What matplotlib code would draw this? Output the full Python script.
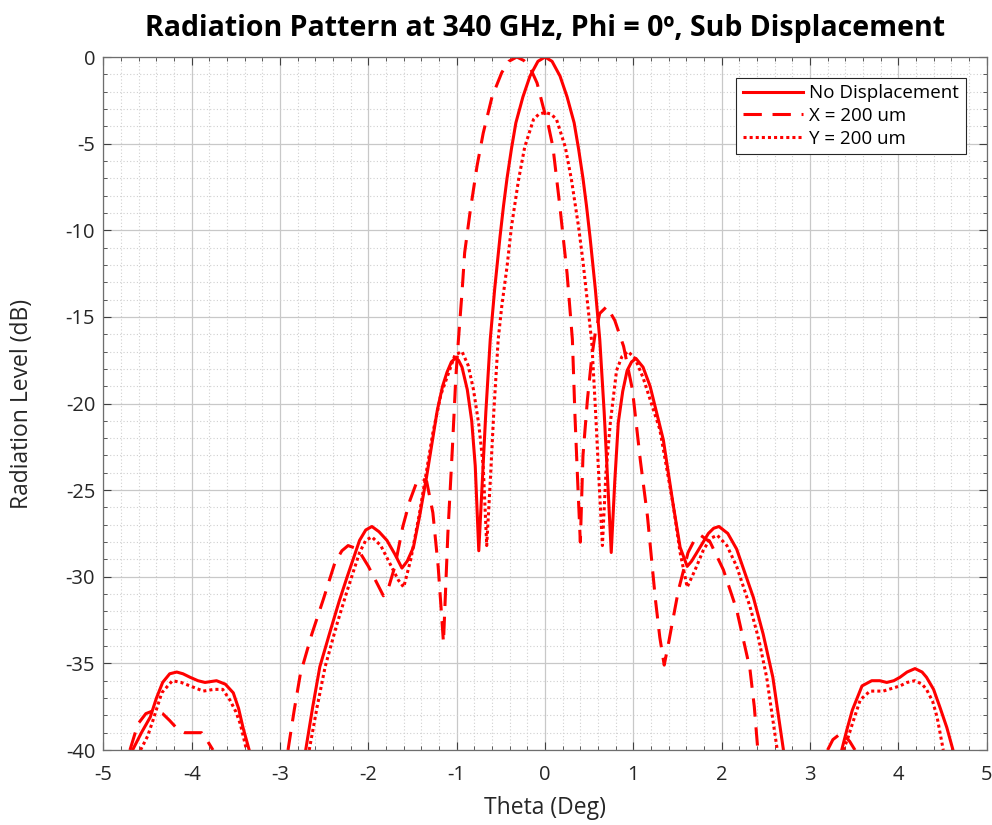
#!/usr/bin/env python3

import numpy as np
import matplotlib
matplotlib.use("Agg")
import matplotlib.pyplot as plt
from matplotlib.ticker import MultipleLocator

nan = np.nan

# No Displacement (solid)
theta_nd = [-4.67, -4.57, -4.47, -4.40, -4.33, -4.25, -4.17, -4.10, -4.02, -3.93, -3.85, -3.72, -3.62, -3.53,
            -3.47, -3.42, -3.35,
            nan,
            -2.71, -2.63, -2.55, -2.43, -2.33, -2.24, -2.10, -2.03, -1.96, -1.88, -1.79, -1.70, -1.62, -1.56, -1.49,
            -1.42, -1.34, -1.22, -1.16, -1.11, -1.06, -1.02, -0.98, -0.94, -0.88, -0.83, -0.79, -0.75, -0.71, -0.67,
            -0.62, -0.57, -0.51, -0.47, -0.43, -0.38, -0.33, -0.25, -0.17, -0.08, 0.0, 0.08, 0.17, 0.25, 0.33, 0.38,
            0.43, 0.47, 0.51, 0.57, 0.62, 0.67, 0.71, 0.75, 0.79, 0.83, 0.88, 0.93, 0.98, 1.03, 1.11, 1.19, 1.34,
            1.45, 1.53, 1.61, 1.66, 1.72, 1.85, 1.91, 1.97, 2.07, 2.17, 2.36, 2.47, 2.58, 2.70,
            nan,
            3.36, 3.42, 3.48, 3.59, 3.70, 3.79, 3.87, 3.95, 4.02, 4.10, 4.19, 4.27, 4.32, 4.40, 4.47, 4.55, 4.62]
level_nd = [-40, -39.0, -38.1, -37.0, -36.1, -35.6, -35.5, -35.6, -35.8, -36.0, -36.1, -36.0, -36.2, -36.7,
            -37.6, -38.7, -40,
            nan,
            -40, -37.5, -35.2, -33.1, -31.4, -30.0, -27.9, -27.3, -27.1, -27.4, -27.9, -28.7, -29.5, -29.1, -28.3,
            -26.5, -24.2, -20.4, -19.0, -18.2, -17.6, -17.4, -17.5, -17.9, -19.2, -21.0, -23.6, -28.5, -24.5, -20.5,
            -16.3, -13.4, -10.4, -8.6, -7.0, -5.3, -3.8, -2.3, -1.1, -0.25, 0.0, -0.25, -1.1, -2.3, -3.8, -5.3,
            -7.0, -8.6, -10.4, -13.4, -16.3, -20.5, -24.5, -28.6, -24.5, -21.1, -19.3, -18.1, -17.6, -17.4, -17.9, -19.0, -22.1,
            -25.8, -28.3, -29.4, -29.1, -28.6, -27.5, -27.2, -27.1, -27.5, -28.4, -31.2, -33.3, -35.8, -40,
            nan,
            -40, -38.8, -37.7, -36.3, -36.0, -36.0, -36.1, -36.0, -35.8, -35.5, -35.3, -35.5, -35.8, -36.5, -37.5, -38.7, -40]

# X = 200 um (dashed)
theta_x = [-4.70, -4.61, -4.52, -4.42, -4.33, -4.25, -4.16, -4.08, -3.99, -3.89, -3.82, -3.76,
           nan,
           -2.91, -2.84, -2.77, -2.64, -2.51, -2.38, -2.30, -2.23, -2.12, -2.00, -1.90, -1.83, -1.77, -1.70,
           -1.61, -1.53, -1.45, -1.40, -1.34, -1.27, -1.21, -1.17, -1.15, -1.13, -1.10, -1.05, -1.01, -0.98,
           -0.94, -0.91, -0.85, -0.77, -0.70, -0.60, -0.49, -0.41, -0.32, -0.24, -0.17, -0.09, -0.02, 0.04, 0.09,
           0.17, 0.25, 0.31, 0.34, 0.37, 0.40, 0.43, 0.48, 0.53, 0.57, 0.62, 0.70, 0.79, 0.89, 0.99, 1.08, 1.16,
           1.25, 1.30, 1.35, 1.40, 1.44, 1.51, 1.62, 1.69, 1.76, 1.87, 2.02, 2.17, 2.32, 2.37, 2.41,
           nan,
           3.20, 3.26, 3.36, 3.45, 3.51]
level_x = [-40, -38.5, -37.9, -37.7, -37.9, -38.3, -38.8, -39.0, -39.0, -39.0, -39.5, -40,
           nan,
           -40, -37.7, -35.6, -33.3, -31.3, -29.2, -28.5, -28.2, -28.4, -29.4, -30.4, -31.1, -30.6, -29.4,
           -27.1, -25.6, -24.5, -24.3, -24.5, -26.3, -29.4, -32.3, -33.8, -31.3, -27.5, -22.7, -18.5, -16.3,
           -13.6, -11.3, -9.0, -6.3, -4.4, -2.3, -0.9, -0.25, 0.0, -0.2, -0.6, -1.5, -2.9, -4.0, -5.2,
           -8.7, -12.5, -16.3, -20.8, -24.5, -28.0, -23.0, -19.8, -17.3, -15.9, -14.8, -14.4, -15.2, -16.7, -19.2, -23.3, -26.5,
           -31.3, -33.5, -35.1, -33.8, -32.7, -30.8, -28.6, -27.9, -27.6, -28.0, -29.6, -31.9, -35.3, -37.5, -40,
           nan,
           -40, -39.4, -39.0, -39.5, -40]

# Y = 200 um (dotted)
theta_y = [-4.58, -4.50, -4.44, -4.34, -4.22, -4.12, -4.02, -3.87, -3.75, -3.65, -3.57, -3.50, -3.45, -3.38,
           nan,
           -2.67, -2.58, -2.49, -2.36, -2.24, -2.10, -2.03, -1.96, -1.86, -1.76, -1.66, -1.60, -1.52, -1.42,
           -1.27, -1.18, -1.11, -1.02, -0.94, -0.87, -0.81, -0.75, -0.70, -0.66, -0.62, -0.58, -0.53, -0.49,
           -0.43, -0.38, -0.30, -0.23, -0.13, -0.07, 0.0, 0.07, 0.13, 0.23, 0.30, 0.38, 0.43, 0.49, 0.53, 0.57,
           0.61, 0.65, 0.69, 0.74, 0.81, 0.87, 0.94, 1.02, 1.11, 1.30, 1.45, 1.53, 1.61, 1.70, 1.79, 1.87, 1.95,
           2.06, 2.17, 2.32, 2.42, 2.51, 2.63,
           nan,
           3.38, 3.43, 3.48, 3.57, 3.68, 3.83, 4.02, 4.10, 4.19, 4.27, 4.32, 4.39, 4.44, 4.51]
level_y = [-40, -39.2, -38.3, -36.7, -36.0, -36.1, -36.3, -36.6, -36.5, -36.5, -37.1, -37.8, -38.5, -40,
           nan,
           -40, -37.5, -35.2, -32.8, -30.8, -28.6, -27.9, -27.7, -28.2, -29.2, -30.2, -30.6, -29.0, -26.3,
           -21.7, -19.5, -18.5, -17.2, -17.0, -17.8, -19.2, -21.2, -23.6, -28.2, -24.5, -20.5, -16.3, -14.4,
           -12.1, -9.8, -7.1, -5.2, -3.6, -3.3, -3.2, -3.3, -3.6, -5.2, -7.1, -9.8, -11.8, -14.6, -16.5, -20.2,
           -24.3, -28.2, -24.0, -21.1, -18.1, -17.3, -17.0, -17.4, -18.5, -21.5, -25.8, -28.6, -30.6, -29.6, -28.5, -27.8, -27.6,
           -28.2, -29.4, -31.7, -33.6, -35.8, -40,
           nan,
           -40, -39.3, -38.5, -37.1, -36.6, -36.6, -36.3, -36.1, -36.0, -36.2, -36.5, -37.2, -38.1, -40]

labels = ["No Displacement", "X = 200 um", "Y = 200 um"]

plt.rcParams['font.family'] = ['Open Sans', 'DejaVu Sans']
plt.rcParams['axes.unicode_minus'] = False

fig = plt.figure(figsize=(9.92, 8.25), dpi=100)
ax = fig.add_axes([0.1043, 0.0909, 0.8902, 0.84])

lw = 2.2
ax.plot(theta_nd, level_nd, color='red', lw=lw, label=labels[0])
ax.plot(theta_x, level_x, color='red', lw=lw, dashes=(6, 3.5), label=labels[1])
ax.plot(theta_y, level_y, color='red', lw=lw, dashes=(1, 1), dash_capstyle='butt', label=labels[2])

ax.set_xlim(-5, 5)
ax.set_ylim(-40, 0)
ax.xaxis.set_major_locator(MultipleLocator(1))
ax.xaxis.set_minor_locator(MultipleLocator(0.2))
ax.yaxis.set_major_locator(MultipleLocator(5))
ax.yaxis.set_minor_locator(MultipleLocator(1))

ax.grid(which='major', color='#c8c8c8', lw=0.9)
ax.grid(which='minor', color='#d0d0d0', lw=0.8, ls=(0, (1, 2)))
ax.set_axisbelow(True)

for s in ax.spines.values():
    s.set_color('#6e6e6e')
    s.set_linewidth(0.9)

ax.tick_params(which='both', direction='in', top=True, right=True, colors='#404040',
               labelcolor='#262626', labelsize=14.5)
ax.tick_params(which='major', length=6)
ax.tick_params(which='minor', length=3)
ax.tick_params(axis='x', which='major', pad=11)
ax.tick_params(axis='y', which='major', pad=6)

ax.set_xlabel("Theta (Deg)", fontsize=16.5, color='#262626', va='center')
ax.xaxis.set_label_coords(0.5, -0.0837)
ax.set_ylabel("Radiation Level (dB)", fontsize=16.5, color='#262626', va='center')
ax.yaxis.set_label_coords(-0.0923, 0.5)
ax.set_title("Radiation Pattern at 340 GHz, Phi = 0º, Sub Displacement",
             fontsize=20.5, fontweight='bold', pad=15)

leg = ax.legend(loc='upper right', fontsize=13.5, handlelength=3.2, borderaxespad=1.1,
                fancybox=False, framealpha=1, edgecolor='#262626',
                labelspacing=0.25, borderpad=0.35, handletextpad=0.35)
leg.get_frame().set_linewidth(0.8)

fig.savefig("out.png", dpi=100)
